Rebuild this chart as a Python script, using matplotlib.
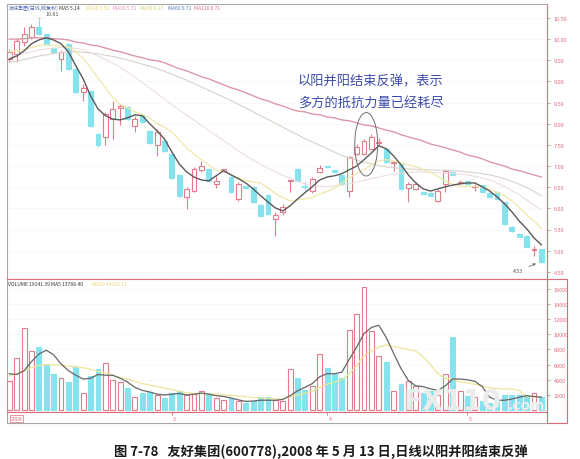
import numpy as np
import matplotlib
matplotlib.use('Agg')
import matplotlib.pyplot as plt
from matplotlib.patches import Rectangle, Ellipse
from matplotlib.ticker import FormatStrFormatter, FuncFormatter

plt.rcParams['font.family'] = ['Noto Sans CJK SC', 'DejaVu Sans']

# ---------------- data (daily candles) ----------------
open_ = [9.53, 9.65, 9.93, 10.05, 10.29, 10.12, 9.79, 9.53, 9.89, 9.30,
         8.75, 8.78, 7.76, 7.69, 8.11, 8.38, 8.40, 7.95, 8.19, 7.83,
         7.50, 7.59, 7.29, 6.79, 6.27, 6.41, 6.91, 6.93, 6.58, 6.89,
         6.74, 6.22, 6.53, 6.51, 6.08, 6.32, 5.75, 5.92, 6.64, 6.93,
         6.53, 6.41, 6.86, 7.00, 6.91, 6.79, 6.41, 7.29, 7.29, 7.41,
         7.55, 7.41, 7.07, 7.05, 6.48, 6.46, 6.39, 6.37, 6.18, 6.58,
         6.86, 6.61, 6.65, 6.51, 6.55, 6.37, 6.39, 6.15, 5.56, 5.40,
         5.35, 5.02, 5.04]
close_ = [9.70, 9.96, 10.12, 10.29, 10.12, 9.89, 9.70, 9.70, 9.30, 8.75,
          8.85, 7.95, 7.50, 8.23, 8.35, 8.42, 8.11, 8.11, 8.04, 7.55,
          7.81, 7.36, 6.72, 6.30, 6.46, 6.93, 7.00, 6.65, 6.65, 6.92,
          6.39, 6.58, 6.48, 6.15, 5.82, 5.87, 5.85, 6.04, 6.66, 6.65,
          6.51, 6.70, 6.96, 6.97, 6.86, 6.58, 7.22, 7.45, 7.59, 7.69,
          7.58, 7.10, 7.10, 6.46, 6.58, 6.58, 6.34, 6.30, 6.41, 6.89,
          6.79, 6.63, 6.58, 6.53, 6.39, 6.27, 6.22, 5.63, 5.47, 5.33,
          5.09, 5.05, 4.74]
high_ = [9.77, 10.03, 10.29, 10.36, 10.48, 10.14, 9.80, 9.75, 9.90, 9.31,
         8.94, 8.80, 7.78, 8.28, 8.54, 8.47, 8.42, 8.19, 8.20, 7.85,
         7.88, 7.61, 7.31, 6.81, 6.50, 6.98, 7.12, 6.95, 6.77, 6.94,
         6.76, 6.62, 6.54, 6.53, 6.10, 6.34, 5.92, 6.11, 6.68, 6.95,
         6.65, 6.75, 7.02, 7.01, 6.92, 6.80, 7.24, 7.52, 7.64, 7.76,
         7.66, 7.43, 7.12, 7.07, 6.63, 6.63, 6.40, 6.38, 6.45, 6.93,
         6.87, 6.66, 6.66, 6.58, 6.56, 6.38, 6.40, 6.16, 5.58, 5.41,
         5.36, 5.12, 5.05]
low_ = [9.46, 9.46, 9.84, 10.01, 10.10, 9.87, 9.68, 9.25, 9.28, 8.73,
        8.54, 7.93, 7.45, 7.50, 7.64, 7.97, 8.09, 7.81, 8.02, 7.53,
        7.24, 7.34, 6.70, 6.28, 5.99, 6.39, 6.86, 6.63, 6.48, 6.87,
        6.37, 6.18, 6.47, 6.13, 5.80, 5.85, 5.35, 5.85, 6.39, 6.63,
        6.41, 6.37, 6.84, 6.96, 6.85, 6.56, 6.27, 7.27, 7.27, 7.43,
        7.50, 7.08, 6.88, 6.44, 6.15, 6.44, 6.33, 6.29, 6.16, 6.39,
        6.78, 6.58, 6.57, 6.41, 6.38, 6.26, 6.21, 5.61, 5.45, 5.32,
        5.08, 4.88, 4.72]

ma5 = [9.53, 9.60, 9.72, 9.89, 9.98, 10.03, 9.98, 9.89, 9.70, 9.37,
       9.06, 8.66, 8.35, 8.19, 8.11, 8.09, 8.14, 8.21, 8.19, 8.00,
       7.83, 7.64, 7.33, 7.05, 6.86, 6.74, 6.67, 6.65, 6.77, 6.89,
       6.79, 6.70, 6.60, 6.46, 6.30, 6.15, 6.01, 5.94, 6.06, 6.22,
       6.37, 6.51, 6.67, 6.74, 6.77, 6.82, 6.91, 7.00, 7.15, 7.31,
       7.48, 7.41, 7.24, 7.03, 6.79, 6.60, 6.46, 6.41, 6.46, 6.51,
       6.55, 6.58, 6.60, 6.60, 6.51, 6.41, 6.27, 6.11, 5.92, 5.70,
       5.52, 5.30, 5.14]
ma10 = [9.70, 9.72, 9.75, 9.80, 9.85, 9.86, 9.85, 9.84, 9.82, 9.70,
        9.55, 9.32, 9.08, 8.85, 8.62, 8.45, 8.38, 8.28, 8.22, 8.14,
        8.00, 7.92, 7.80, 7.62, 7.43, 7.28, 7.15, 7.02, 6.90, 6.87,
        6.80, 6.72, 6.66, 6.62, 6.60, 6.48, 6.35, 6.25, 6.18, 6.20,
        6.22, 6.26, 6.34, 6.40, 6.48, 6.60, 6.72, 6.83, 6.92, 7.02,
        7.12, 7.15, 7.12, 7.07, 7.03, 6.98, 6.92, 6.85, 6.75, 6.65,
        6.57, 6.52, 6.52, 6.52, 6.50, 6.45, 6.38, 6.30, 6.18, 6.02,
        5.85, 5.70, 5.52]
ma20 = [9.60, 9.62, 9.66, 9.70, 9.74, 9.77, 9.79, 9.80, 9.80, 9.78,
        9.75, 9.68, 9.60, 9.52, 9.43, 9.33, 9.22, 9.10, 8.97, 8.84,
        8.72, 8.58, 8.45, 8.32, 8.20, 8.08, 7.96, 7.84, 7.72, 7.60,
        7.48, 7.36, 7.25, 7.14, 7.04, 6.95, 6.86, 6.78, 6.71, 6.64,
        6.58, 6.54, 6.52, 6.52, 6.53, 6.55, 6.58, 6.62, 6.66, 6.70,
        6.74, 6.78, 6.81, 6.83, 6.85, 6.86, 6.86, 6.85, 6.84, 6.83,
        6.82, 6.81, 6.79, 6.76, 6.72, 6.67, 6.60, 6.52, 6.42, 6.32,
        6.20, 6.08, 5.96]
ma30 = [9.45, 9.48, 9.52, 9.56, 9.60, 9.63, 9.66, 9.68, 9.70, 9.70,
        9.69, 9.67, 9.65, 9.62, 9.59, 9.55, 9.51, 9.46, 9.41, 9.36,
        9.30, 9.24, 9.17, 9.10, 9.03, 8.95, 8.87, 8.79, 8.71, 8.63,
        8.55, 8.46, 8.37, 8.28, 8.19, 8.10, 8.01, 7.92, 7.83, 7.74,
        7.65, 7.57, 7.49, 7.41, 7.33, 7.25, 7.19, 7.14, 7.09, 7.05,
        7.01, 6.98, 6.96, 6.94, 6.93, 6.92, 6.91, 6.91, 6.90, 6.90,
        6.89, 6.88, 6.86, 6.84, 6.82, 6.79, 6.75, 6.70, 6.64, 6.57,
        6.49, 6.40, 6.30]
ma60 = [10.00, 10.00, 10.01, 10.03, 10.03, 10.03, 10.01, 10.00, 9.98, 9.93,
        9.91, 9.86, 9.84, 9.79, 9.74, 9.70, 9.65, 9.60, 9.56, 9.51,
        9.49, 9.44, 9.37, 9.30, 9.25, 9.18, 9.11, 9.06, 8.99, 8.92,
        8.85, 8.80, 8.73, 8.66, 8.59, 8.54, 8.47, 8.42, 8.35, 8.30,
        8.28, 8.23, 8.21, 8.16, 8.14, 8.09, 8.07, 8.02, 7.97, 7.95,
        7.90, 7.85, 7.81, 7.74, 7.69, 7.64, 7.59, 7.52, 7.48, 7.43,
        7.38, 7.33, 7.26, 7.22, 7.17, 7.10, 7.05, 7.00, 6.93, 6.89,
        6.84, 6.79, 6.74]

volume = [3870, 6870, 10900, 7830, 8370, 5940, 4760, 4180, 3650, 5730,
          2250, 4540, 5420, 6170, 3960, 3650, 2900, 1760, 2200, 2330,
          2030, 1590, 2200, 2550, 2030, 2100, 2550, 2200, 1590, 1320,
          1590, 1230, 880, 1230, 1760, 1760, 1320, 1230, 5420, 4230,
          2640, 3200, 7400, 5500, 4760, 4300, 10600, 12700, 16300, 10500,
          7200, 6400, 2550, 3500, 3800, 3200, 2200, 2550, 2000, 4760,
          9600, 2470, 1900, 1700, 1230, 1000, 1500, 2000, 2000, 2000,
          1900, 2200, 1760]
vma5 = [4800, 4700, 5200, 6400, 7400, 7900, 7300, 6100, 5200, 4600,
        4100, 4200, 4700, 4600, 4600, 4200, 3700, 3000, 2600, 2400,
        2100, 2000, 2100, 2200, 2000, 2100, 2250, 2100, 1900, 1800,
        1600, 1350, 1150, 1200, 1300, 1300, 1300, 1400, 1900, 2550,
        3000, 3500, 4400, 4800, 4800, 5000, 6700, 8300, 10100, 10900,
        11200, 9600, 7500, 5500, 3900, 3200, 3100, 2800, 2600, 3200,
        4100, 4100, 4000, 3800, 3100, 1700, 1300, 1300, 1450, 1700,
        1900, 1800, 1700]
vma10 = [4500, 4800, 5200, 5600, 5900, 6000, 6000, 5900, 5800, 5700,
         5600, 5400, 5100, 4900, 4600, 4300, 4100, 3800, 3500, 3300,
         3100, 2900, 2700, 2500, 2300, 2200, 2200, 2150, 2100, 2000,
         1950, 1850, 1750, 1650, 1600, 1550, 1500, 1450, 1750, 2000,
         2200, 2500, 3000, 3400, 3700, 4000, 4800, 5900, 7200, 7800,
         8300, 8600, 8400, 8200, 8000, 7800, 7000, 6000, 4800, 4200,
         4100, 3700, 3600, 3400, 3200, 2950, 2850, 2800, 2800, 2550,
         1800, 1750, 1750]

price_ticks = [4.5, 5.0, 5.5, 6.0, 6.5, 7.0, 7.5, 8.0, 8.5, 9.0, 9.5, 10.0, 10.5]
vol_ticks = [2000, 4000, 6000, 8000, 10000, 12000, 14000, 16000]
month_idx = [22, 43, 62]
month_labels = ['3', '4', '5']
year_label = '2008'
hi_label = '10.81'
lo_label = '4.53'
marked = [47, 48, 49]   # the circled "阳并阳" candles

header_items = [('友好集团(日线,前复权)', '#4a64b0'), ('MA5 5.14', '#333333'),
                ('MA10 5.52', '#e6d46a'), ('MA20 5.71', '#e08cc0'),
                ('MA30 6.17', '#d6cc6a'), ('MA60 6.71', '#5a7cc0'),
                ('MA120 6.71', '#e06f80')]
vol_header = [('VOLUME 19141.39 MA5 13788.40', '#333333'), ('MA10 14523.71', '#e6d46a')]
note_lines = ['以阳并阳结束反弹，表示', '多方的抵抗力量已经耗尽']
caption = '图 7-78   友好集团(600778),2008 年 5 月 13 日,日线以阳并阳结束反弹'

# ---------------- layout ----------------
W, H = 580, 460
fig = plt.figure(figsize=(W / 100, H / 100), dpi=100)
fig.patch.set_facecolor('white')


def rect(l, t, r, b):
    return [l / W, 1 - b / H, (r - l) / W, (b - t) / H]


UP = '#e27c8c'
DN = '#86e2ec'
AXC = '#e06a7c'
GRID = '#e6e6e6'
FRAME = '#a8a8a8'

n = len(close_)
idx = np.arange(n)
XL = (-0.31, 72.76)
bw = 0.66

axp = fig.add_axes(rect(7, 5, 547, 280))
axv = fig.add_axes(rect(7, 280, 547, 413))
axd = fig.add_axes(rect(7, 413, 547, 424))

# ---------------- price panel ----------------
for i in idx:
    o, c, h, l = open_[i], close_[i], high_[i], low_[i]
    up = c >= o
    col = UP if up else DN
    axp.vlines(i, l, h, color=col, lw=0.8, zorder=2)
    axp.add_patch(Rectangle((i - bw / 2, min(o, c)), bw, max(abs(c - o), 0.012),
                            facecolor='white' if up else DN, edgecolor=col,
                            lw=0.8, zorder=3))

axp.plot(idx, ma60, color='#dc98a6', lw=1.0, zorder=4)
axp.plot(idx, ma30, color='#d8d2c8', lw=0.8, zorder=4)
axp.plot(idx, ma20, color='#ecdde0', lw=0.8, zorder=4)
axp.plot(idx, ma10, color='#f0e8a8', lw=0.9, zorder=4)
axp.plot(idx, ma5, color='#5a5a5a', lw=1.0, zorder=5)

axp.set_xlim(*XL)
axp.set_ylim(4.33, 10.83)
axp.set_yticks(price_ticks)
axp.yaxis.tick_right()
axp.yaxis.set_major_formatter(FormatStrFormatter('%.2f'))
axp.tick_params(axis='y', colors=AXC, labelsize=4, length=2, width=0.5, pad=3)
axp.tick_params(axis='x', bottom=False, labelbottom=False)
axp.grid(axis='y', ls=(0, (1, 2)), color=GRID, lw=0.5)
for s in ('left', 'top'):
    axp.spines[s].set_color(FRAME)
    axp.spines[s].set_linewidth(0.8)
for s in ('right', 'bottom'):
    axp.spines[s].set_color(AXC)
    axp.spines[s].set_linewidth(0.8)

# circled candles
cx = (min(marked) + max(marked)) / 2 + 0.3
cy = (min(low_[i] for i in marked) + max(high_[i] for i in marked)) / 2
axp.add_patch(Ellipse((cx, cy), 3.1, 1.5, fill=False, edgecolor='#707070',
                      lw=0.7, zorder=6))

# high / low marks
ih = int(np.argmax(high_))
axp.annotate(hi_label, xy=(ih, high_[ih]), xytext=(5, 2), textcoords='offset points',
             fontsize=3.8, color='#555555', va='bottom',
             arrowprops=dict(arrowstyle='-', lw=0.4, color='#777777'))
il = int(np.argmin(low_))
axp.annotate(lo_label, xy=(il - 0.4, low_[il]), xytext=(-18, -6), textcoords='offset points',
             fontsize=3.8, color='#555555', va='center',
             arrowprops=dict(arrowstyle='->', lw=0.5, color='#555555'))

# ---------------- volume panel ----------------
ups = [close_[i] >= open_[i] for i in idx]
axv.bar(idx, volume, width=bw,
        color=['white' if u else DN for u in ups],
        edgecolor=[UP if u else DN for u in ups], lw=0.8, zorder=3)
axv.plot(idx, vma10, color='#efe49a', lw=0.9, zorder=4)
axv.plot(idx, vma5, color='#666666', lw=0.9, zorder=5)
axv.set_xlim(*XL)
axv.set_ylim(-250, 17300)
axv.set_yticks(vol_ticks)
axv.yaxis.tick_right()
axv.yaxis.set_major_formatter(FuncFormatter(lambda v, p: '%d' % v))
axv.tick_params(axis='y', colors=AXC, labelsize=4, length=2, width=0.5, pad=3)
axv.tick_params(axis='x', bottom=False, labelbottom=False)
axv.grid(axis='y', ls=(0, (1, 2)), color=GRID, lw=0.5)
axv.spines['left'].set_color(FRAME)
for s in ('right', 'top', 'bottom'):
    axv.spines[s].set_color(AXC)
for s in axv.spines.values():
    s.set_linewidth(0.8)

# ---------------- date strip ----------------
axd.set_xlim(*XL)
axd.set_ylim(0, 1)
axd.set_yticks([])
axd.set_xticks(month_idx)
axd.set_xticklabels([])
axd.tick_params(axis='x', direction='in', top=True, bottom=False, length=2,
                color=AXC, width=0.6)
for m, lab in zip(month_idx, month_labels):
    axd.text(m + 0.2, 0.42, lab, fontsize=3.8, color=AXC, va='center', ha='left')
axd.text(0.2, 0.42, year_label, fontsize=3.8, color=AXC, va='center', ha='left',
         bbox=dict(boxstyle='square,pad=0.15', fc='white', ec=AXC, lw=0.5))
axd.spines['top'].set_color(AXC)
for s in ('left', 'bottom', 'right'):
    axd.spines[s].set_color(FRAME)
for s in axd.spines.values():
    s.set_linewidth(0.8)

# right-hand box of the volume scale
fig.add_artist(Rectangle((547 / W, 1 - 424 / H), 20 / W, 144 / H, transform=fig.transFigure,
                         fill=False, edgecolor=AXC, lw=0.8))

# ---------------- texts ----------------
xpos = [9, 59, 86, 113, 140, 168, 194]
for (t, c), x in zip(header_items, xpos):
    fig.text(x / W, 1 - 8.5 / H, t, fontsize=3.6, color=c, va='center', ha='left')
vx = [8, 92]
for (t, c), x in zip(vol_header, vx):
    fig.text(x / W, 1 - 284 / H, t, fontsize=3.6, color=c, va='center', ha='left')

for k, line in enumerate(note_lines):
    fig.text(298 / W, 1 - (82 + 22 * k) / H, line, fontsize=9.5, color='#3c4caa',
             va='center', ha='left')

# watermark
fig.text(404 / W, 1 - 410 / H, 'FX110', fontsize=20, fontweight='bold',
         color='#ebebeb', family='DejaVu Sans', va='baseline', ha='left', zorder=20)
fig.text(508 / W, 1 - 410 / H, '.com', fontsize=10, fontweight='bold',
         color='#ebebeb', family='DejaVu Sans', va='baseline', ha='left', zorder=20)

fig.text(321 / W, 1 - 452 / H, caption, fontsize=9.5, fontweight='bold',
         color='#1a1a1a', va='center', ha='center')

fig.savefig('out.png', dpi=100, facecolor='white')
